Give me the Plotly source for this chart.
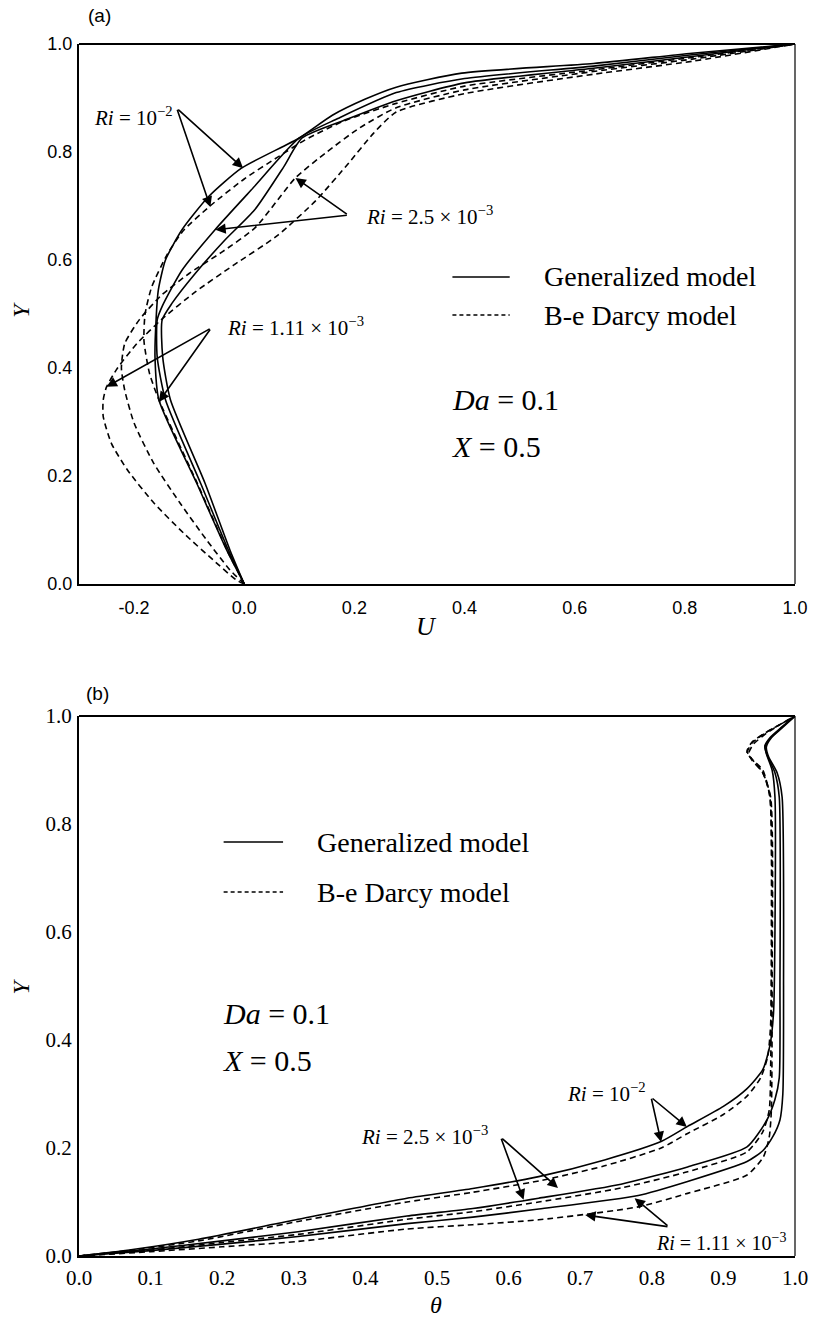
import plotly.graph_objects as go

# ---------------- Panel (a): U velocity profiles ----------------
a_g1_u = [0, -0.032, -0.086, -0.155, -0.162, -0.160, -0.156, -0.143, -0.113, -0.065, -0.005, 0.10, 0.16, 0.22, 0.276, 0.395, 0.634, 0.813, 1.0]
a_g1_y = [0, 0.063, 0.186, 0.341, 0.42, 0.49, 0.544, 0.60, 0.656, 0.717, 0.770, 0.826, 0.868, 0.898, 0.920, 0.946, 0.964, 0.983, 1.0]

a_g2_u = [0, -0.029, -0.079, -0.143, -0.158, -0.158, -0.149, -0.113, -0.053, 0.013, 0.10, 0.17, 0.276, 0.40, 0.634, 0.813, 1.0]
a_g2_y = [0, 0.063, 0.186, 0.341, 0.42, 0.489, 0.514, 0.581, 0.656, 0.73, 0.826, 0.862, 0.910, 0.936, 0.959, 0.980, 1.0]

a_g3_u = [0, -0.026, -0.071, -0.134, -0.148, -0.149, -0.131, -0.089, -0.035, 0.019, 0.072, 0.105, 0.19, 0.276, 0.40, 0.634, 0.813, 1.0]
a_g3_y = [0, 0.063, 0.186, 0.341, 0.42, 0.489, 0.52, 0.575, 0.637, 0.693, 0.773, 0.826, 0.862, 0.895, 0.928, 0.955, 0.977, 1.0]

a_d1_u = [0, -0.030, -0.085, -0.155, -0.172, -0.182, -0.180, -0.168, -0.140, -0.110, -0.062, 0.0, 0.06, 0.11, 0.18, 0.276, 0.40, 0.634, 0.813, 1.0]
a_d1_y = [0, 0.060, 0.186, 0.341, 0.39, 0.45, 0.50, 0.55, 0.61, 0.655, 0.70, 0.75, 0.79, 0.822, 0.857, 0.890, 0.922, 0.952, 0.975, 1.0]

a_d2_u = [0, -0.026, -0.068, -0.116, -0.164, -0.200, -0.217, -0.223, -0.217, -0.190, -0.150, -0.100, -0.040, 0.020, 0.093, 0.15, 0.21, 0.276, 0.40, 0.634, 0.813, 1.0]
a_d2_y = [0, 0.026, 0.081, 0.149, 0.223, 0.298, 0.359, 0.40, 0.445, 0.49, 0.535, 0.575, 0.615, 0.66, 0.752, 0.80, 0.845, 0.882, 0.915, 0.949, 0.972, 1.0]

a_d3_u = [0, -0.014, -0.056, -0.110, -0.164, -0.212, -0.241, -0.256, -0.256, -0.250, -0.230, -0.195, -0.150, -0.090, -0.020, 0.060, 0.130, 0.190, 0.235, 0.276, 0.40, 0.634, 0.813, 1.0]
a_d3_y = [0, 0.007, 0.044, 0.094, 0.150, 0.211, 0.260, 0.310, 0.341, 0.365, 0.40, 0.445, 0.49, 0.54, 0.59, 0.645, 0.71, 0.78, 0.835, 0.874, 0.908, 0.944, 0.968, 1.0]

# ---------------- Panel (b): temperature profiles ----------------
b_g1_t = [0, 0.075, 0.167, 0.306, 0.458, 0.55, 0.642, 0.734, 0.813, 0.85, 0.9, 0.933, 0.955, 0.965, 0.970, 0.972, 0.972, 0.968, 0.960, 0.958, 0.965, 0.98, 1.0]
b_g1_y = [0, 0.012, 0.031, 0.068, 0.107, 0.125, 0.147, 0.178, 0.212, 0.240, 0.277, 0.31, 0.345, 0.39, 0.45, 0.6, 0.85, 0.90, 0.93, 0.945, 0.96, 0.978, 1.0]

b_d1_t = [0, 0.075, 0.167, 0.306, 0.458, 0.55, 0.642, 0.734, 0.813, 0.85, 0.9, 0.933, 0.952, 0.962, 0.966, 0.967, 0.965, 0.955, 0.94, 0.933, 0.94, 0.96, 0.98, 1.0]
b_d1_y = [0, 0.011, 0.028, 0.064, 0.100, 0.118, 0.139, 0.167, 0.20, 0.227, 0.262, 0.296, 0.33, 0.37, 0.43, 0.6, 0.85, 0.90, 0.92, 0.932, 0.95, 0.97, 0.985, 1.0]

b_g2_t = [0, 0.1, 0.2, 0.306, 0.458, 0.55, 0.642, 0.757, 0.85, 0.933, 0.96, 0.972, 0.978, 0.979, 0.978, 0.972, 0.962, 0.958, 0.965, 0.98, 1.0]
b_g2_y = [0, 0.013, 0.028, 0.045, 0.074, 0.088, 0.107, 0.133, 0.165, 0.202, 0.25, 0.29, 0.33, 0.5, 0.85, 0.895, 0.925, 0.943, 0.958, 0.977, 1.0]

b_d2_t = [0, 0.1, 0.2, 0.306, 0.458, 0.55, 0.642, 0.757, 0.85, 0.933, 0.955, 0.964, 0.966, 0.965, 0.955, 0.94, 0.935, 0.942, 0.96, 0.98, 1.0]
b_d2_y = [0, 0.011, 0.025, 0.040, 0.068, 0.082, 0.100, 0.126, 0.156, 0.193, 0.23, 0.27, 0.35, 0.85, 0.895, 0.918, 0.93, 0.948, 0.968, 0.985, 1.0]

b_g3_t = [0, 0.1, 0.2, 0.306, 0.458, 0.55, 0.642, 0.781, 0.85, 0.933, 0.955, 0.969, 0.979, 0.983, 0.984, 0.982, 0.975, 0.963, 0.96, 0.967, 0.982, 1.0]
b_g3_y = [0, 0.010, 0.022, 0.036, 0.060, 0.072, 0.087, 0.112, 0.138, 0.175, 0.195, 0.221, 0.252, 0.30, 0.5, 0.85, 0.895, 0.925, 0.943, 0.96, 0.978, 1.0]

b_d3_t = [0, 0.1, 0.2, 0.306, 0.458, 0.55, 0.642, 0.781, 0.85, 0.933, 0.956, 0.964, 0.967, 0.968, 0.966, 0.955, 0.94, 0.933, 0.94, 0.96, 0.98, 1.0]
b_d3_y = [0, 0.008, 0.017, 0.027, 0.050, 0.058, 0.067, 0.091, 0.116, 0.150, 0.184, 0.22, 0.27, 0.5, 0.85, 0.895, 0.92, 0.935, 0.952, 0.97, 0.985, 1.0]

a_xticks = [-0.2, 0.0, 0.2, 0.4, 0.6, 0.8, 1.0]
a_xticklabels = ["-0.2", "0.0", "0.2", "0.4", "0.6", "0.8", "1.0"]
b_xticks = [0.0, 0.1, 0.2, 0.3, 0.4, 0.5, 0.6, 0.7, 0.8, 0.9, 1.0]
yticks = [0.0, 0.2, 0.4, 0.6, 0.8, 1.0]

SERIF = "Liberation Serif, Times New Roman, serif"
SANS = "Liberation Sans, Arial, sans-serif"
LW = 1.6
DASH = "6px,4px"

fig = go.Figure()

def add(x, y, dashed, xa, ya):
    fig.add_trace(go.Scatter(
        x=x, y=y, mode="lines", xaxis=xa, yaxis=ya, showlegend=False,
        line=dict(color="black", width=LW, dash=DASH if dashed else "solid",
                  shape="spline", smoothing=0.6),
        hoverinfo="skip"))

for x, y in [(a_g1_u, a_g1_y), (a_g2_u, a_g2_y), (a_g3_u, a_g3_y)]:
    add(x, y, False, "x", "y")
for x, y in [(a_d1_u, a_d1_y), (a_d2_u, a_d2_y), (a_d3_u, a_d3_y)]:
    add(x, y, True, "x", "y")
for x, y in [(b_g1_t, b_g1_y), (b_g2_t, b_g2_y), (b_g3_t, b_g3_y)]:
    add(x, y, False, "x2", "y2")
for x, y in [(b_d1_t, b_d1_y), (b_d2_t, b_d2_y), (b_d3_t, b_d3_y)]:
    add(x, y, True, "x2", "y2")

axis_common = dict(showgrid=False, zeroline=False, showline=True, linecolor="black",
                   linewidth=2, ticks="", tickformat=".1f", fixedrange=True)

fig.update_layout(
    width=820, height=1323,
    margin=dict(l=79, r=17, t=44, b=67),
    paper_bgcolor="white", plot_bgcolor="white",
    xaxis=dict(axis_common, domain=[0, 1], range=[-0.3, 1.0], tickvals=a_xticks,
               ticktext=a_xticklabels,
               anchor="y", tickfont=dict(family=SANS, size=18, color="black"),
               ticklabelstandoff=6),
    yaxis=dict(axis_common, domain=[0.5545, 1], range=[0, 1], tickvals=yticks,
               anchor="x", tickfont=dict(family=SANS, size=18, color="black"),
               ticklabelstandoff=1),
    xaxis2=dict(axis_common, domain=[0, 1], range=[0, 1], tickvals=b_xticks,
                anchor="y2", tickfont=dict(family=SERIF, size=21, color="black"),
                ticklabelstandoff=2),
    yaxis2=dict(axis_common, domain=[0, 0.4455], range=[0, 1], tickvals=yticks,
                anchor="x2", tickfont=dict(family=SERIF, size=21, color="black"),
                ticklabelstandoff=1),
)

shapes = []
for xr, yr in [("x", "y"), ("x2", "y2")]:
    shapes.append(dict(type="line", xref=xr + " domain", yref=yr + " domain",
                       x0=0, x1=1, y0=1, y1=1, line=dict(color="black", width=2)))
    shapes.append(dict(type="line", xref=xr + " domain", yref=yr + " domain",
                       x0=1, x1=1, y0=0, y1=1, line=dict(color="black", width=1.2)))

# legend samples
shapes += [
    dict(type="line", xref="x", yref="y", x0=0.378, x1=0.482, y0=0.5685, y1=0.5685,
         line=dict(color="black", width=LW)),
    dict(type="line", xref="x", yref="y", x0=0.378, x1=0.482, y0=0.498, y1=0.498,
         line=dict(color="black", width=LW, dash="4px,3px")),
    dict(type="line", xref="x2", yref="y2", x0=0.202, x1=0.285, y0=0.7667, y1=0.7667,
         line=dict(color="black", width=LW)),
    dict(type="line", xref="x2", yref="y2", x0=0.202, x1=0.285, y0=0.674, y1=0.674,
         line=dict(color="black", width=LW, dash="4px,3px")),
]
fig.update_layout(shapes=shapes)

ann = []

def text(x, y, s, xr, yr, size, family=SERIF, xanchor="left", angle=0):
    ann.append(dict(x=x, y=y, xref=xr, yref=yr, text=s, showarrow=False,
                    xanchor=xanchor, yanchor="middle", textangle=angle,
                    font=dict(family=family, size=size, color="black")))

def arrow(x0, y0, x1, y1, xr, yr):
    ann.append(dict(x=x1, y=y1, ax=x0, ay=y0, xref=xr, yref=yr, axref=xr, ayref=yr,
                    text="", showarrow=True, arrowhead=2, arrowsize=1.3,
                    arrowwidth=1.6, arrowcolor="black", standoff=0, startstandoff=0))

# panel labels
text(0.0289, 1.0239, "(a)", "paper", "paper", 19, SANS, "center")
text(0.0262, 0.4645, "(b)", "paper", "paper", 19, SANS, "center")

# axis titles
text(-0.0815, 0.7805, "<i>Y</i>", "paper", "paper", 24, SERIF, "center", -90)
text(-0.0815, 0.222, "<i>Y</i>", "paper", "paper", 24, SERIF, "center", -90)
text(0.485, 0.519, "<i>U</i>", "paper", "paper", 26, SERIF, "center")
text(0.4986, -0.0405, "<i>θ</i>", "paper", "paper", 24, SERIF, "center")

# legends text
text(0.541, 0.5685, "Generalized model", "x", "y", 28)
text(0.541, 0.498, "B-e Darcy model", "x", "y", 28)
text(0.329, 0.7667, "Generalized model", "x2", "y2", 28)
text(0.329, 0.674, "B-e Darcy model", "x2", "y2", 28)

# parameters
text(0.374, 0.341, "<i>Da</i> = 0.1", "x", "y", 30)
text(0.374, 0.254, "<i>X</i> = 0.5", "x", "y", 30)
text(0.199, 0.450, "<i>Da</i> = 0.1", "x2", "y2", 30)
text(0.199, 0.363, "<i>X</i> = 0.5", "x2", "y2", 30)

RI1 = "<i>Ri</i> = 10<sup>−2</sup>"
RI2 = "<i>Ri</i> = 2.5 × 10<sup>−3</sup>"
RI3 = "<i>Ri</i> = 1.11 × 10<sup>−3</sup>"

# Ri labels panel (a)
text(-0.277, 0.865, RI1, "x", "y", 21)
arrow(-0.1225, 0.881, -0.002, 0.770, "x", "y")
arrow(-0.1225, 0.881, -0.0615, 0.698, "x", "y")
text(0.218, 0.683, RI2, "x", "y", 21)
arrow(0.189, 0.683, 0.093, 0.752, "x", "y")
arrow(0.189, 0.683, -0.0525, 0.656, "x", "y")
text(-0.035, 0.476, RI3, "x", "y", 21)
arrow(-0.060, 0.474, -0.25, 0.365, "x", "y")
arrow(-0.060, 0.474, -0.155, 0.337, "x", "y")

# Ri labels panel (b)
text(0.679, 0.302, RI1, "x2", "y2", 21)
arrow(0.799, 0.294, 0.813, 0.211, "x2", "y2")
arrow(0.799, 0.294, 0.849, 0.239, "x2", "y2")
text(0.391, 0.224, RI2, "x2", "y2", 21)
arrow(0.589, 0.220, 0.621, 0.104, "x2", "y2")
arrow(0.589, 0.220, 0.669, 0.126, "x2", "y2")
text(0.803, 0.026, RI3, "x2", "y2", 20)
arrow(0.824, 0.054, 0.707, 0.076, "x2", "y2")
arrow(0.824, 0.054, 0.776, 0.107, "x2", "y2")

fig.update_layout(annotations=ann)

fig.write_html("out.html")
